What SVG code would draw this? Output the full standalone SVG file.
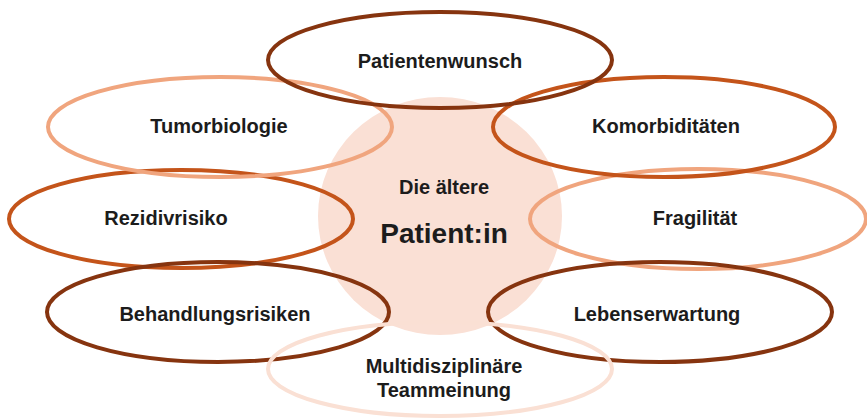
<svg xmlns="http://www.w3.org/2000/svg" width="867" height="418" viewBox="0 0 867 418">
<style>
.e{fill:none;stroke-width:4}
.dk{stroke:#86340f}
.md{stroke:#c4541a}
.lt{stroke:#f0a57e}
.vl{stroke:#fae0d4}
text{font-family:"Liberation Sans",Arial,sans-serif;font-weight:bold;fill:#1c1c1c;text-anchor:middle;font-size:20px}
</style>
<rect width="867" height="418" fill="#fff"/>
<g id="center">
<ellipse cx="440" cy="216" rx="122" ry="119" fill="#fae0d5"/>
<text x="444" y="194">Die ältere</text>
<text x="444" y="243" style="font-size:28px">Patient:in</text>
</g>
<g id="n-rezidiv">
<ellipse class="e md" cx="181" cy="219" rx="172" ry="49"/>
<text x="166" y="225">Rezidivrisiko</text>
</g>
<g id="n-fragil">
<ellipse class="e lt" cx="698" cy="219" rx="168" ry="50"/>
<text x="695" y="225">Fragilität</text>
</g>
<g id="n-tumor">
<ellipse class="e lt" cx="220" cy="127" rx="172" ry="50"/>
<text x="219" y="133">Tumorbiologie</text>
</g>
<g id="n-komorb">
<ellipse class="e md" cx="664" cy="127" rx="171" ry="50"/>
<text x="666" y="133">Komorbiditäten</text>
</g>
<g id="n-behand">
<ellipse class="e dk" cx="218" cy="312" rx="171" ry="50"/>
<text x="215" y="321">Behandlungsrisiken</text>
</g>
<g id="n-leben">
<ellipse class="e dk" cx="660" cy="312" rx="172" ry="50"/>
<text x="657" y="321">Lebenserwartung</text>
</g>
<g id="n-multi">
<ellipse class="e vl" cx="440" cy="369" rx="172" ry="47"/>
<text x="444" y="373">Multidisziplinäre</text>
<text x="444" y="397">Teammeinung</text>
</g>
<g id="n-wunsch">
<ellipse class="e dk" cx="440" cy="60" rx="172" ry="48"/>
<text x="440" y="68">Patientenwunsch</text>
</g>
<g id="connectors"></g>
</svg>
